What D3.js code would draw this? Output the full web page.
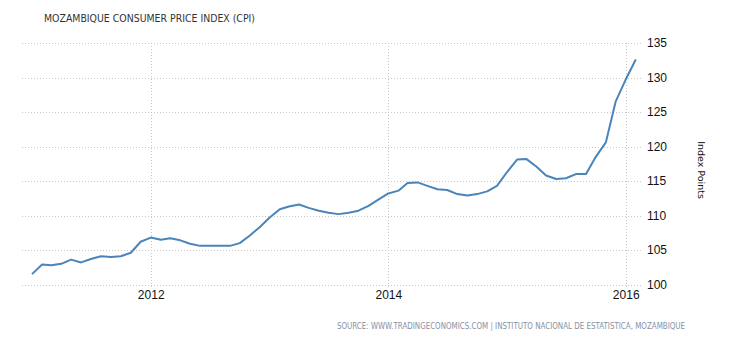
<!DOCTYPE html>
<html><head><meta charset="utf-8">
<script src="https://cdn.jsdelivr.net/npm/d3@7"></script>
<style>body{margin:0;background:#fff}svg{display:block}</style>
</head><body>
<script>
const title = "MOZAMBIQUE CONSUMER PRICE INDEX (CPI)";
const source = "SOURCE: WWW.TRADINGECONOMICS.COM | INSTITUTO NACIONAL DE ESTATISTICA, MOZAMBIQUE";
const yLabel = "Index Points";
const startMonth = "2011-01";
const cpiValues = [
  101.5, 102.9, 102.8, 103.0, 103.6, 103.2, 103.7, 104.1, 104.0, 104.1, 104.6, 106.2,
  106.8, 106.5, 106.7, 106.4, 105.9, 105.6, 105.6, 105.6, 105.6, 106.0, 107.1, 108.3,
  109.7, 110.9, 111.3, 111.6, 111.1, 110.7, 110.4, 110.2, 110.4, 110.7, 111.4, 112.3,
  113.2, 113.6, 114.7, 114.8, 114.3, 113.8, 113.7, 113.1, 112.9, 113.1, 113.5, 114.3,
  116.3, 118.1, 118.2, 117.1, 115.8, 115.3, 115.4, 116.0, 116.0, 118.5, 120.6, 126.5,
  129.7, 132.6
];
const yTicks = [100, 105, 110, 115, 120, 125, 130, 135];
const xTickYears = [2012, 2014, 2016];

const W = 730, H = 340;
const svg = d3.select("body").append("svg").attr("width", W).attr("height", H);

const t0 = d3.timeParse("%Y-%m")(startMonth);
const data = cpiValues.map((v, i) => ({date: d3.timeMonth.offset(t0, i), value: v}));

const x = d3.scaleTime()
  .domain([new Date(2012, 0, 1), new Date(2016, 0, 1)])
  .range([150.7, 625.7]);
const y = d3.scaleLinear().domain([100, 135]).range([284.5, 43]);
const plotL = 22, plotR = 643;

// horizontal grid
svg.append("g").selectAll("line").data(yTicks).join("line")
  .attr("x1", plotL).attr("x2", plotR)
  .attr("y1", d => Math.round(y(d)) + 0.5).attr("y2", d => Math.round(y(d)) + 0.5)
  .attr("stroke", "#c8c8c8").attr("stroke-width", 1).attr("stroke-dasharray", "1,2");

// vertical grid
const xTickDates = xTickYears.map(yr => new Date(yr, 0, 1));
svg.append("g").selectAll("line").data(xTickDates).join("line")
  .attr("x1", d => Math.round(x(d)) + 0.5).attr("x2", d => Math.round(x(d)) + 0.5)
  .attr("y1", 43).attr("y2", 288)
  .attr("stroke", "#c8c8c8").attr("stroke-width", 1).attr("stroke-dasharray", "1,2");

// right y axis labels
const yAxis = d3.axisRight(y).tickValues(yTicks).tickSize(0).tickPadding(0);
const gy = svg.append("g").attr("transform", `translate(647,0)`).call(yAxis);
gy.select(".domain").remove();
gy.selectAll("text").attr("font-family", "Liberation Sans, Arial, sans-serif")
  .attr("font-size", 12).attr("fill", "#111");

// x axis labels
const xAxis = d3.axisBottom(x).tickValues(xTickDates).tickFormat(d3.timeFormat("%Y")).tickSize(0).tickPadding(0);
const gx = svg.append("g").attr("transform", `translate(0,290)`).call(xAxis);
gx.select(".domain").remove();
gx.selectAll("text").attr("font-family", "Liberation Sans, Arial, sans-serif")
  .attr("font-size", 12).attr("fill", "#111");

// line
const line = d3.line().x(d => x(d.date)).y(d => y(d.value));
svg.append("path").datum(data).attr("d", line)
  .attr("fill", "none").attr("stroke", "#4a84b9").attr("stroke-width", 2)
  .attr("stroke-linejoin", "round");

// title
svg.append("text").attr("x", 44).attr("y", 22).text(title)
  .attr("font-family", "DejaVu Sans, sans-serif").attr("font-size", 10.5)
  .attr("fill", "#333").attr("textLength", 211).attr("lengthAdjust", "spacingAndGlyphs");

// y label
svg.append("text").attr("transform", "translate(698,170) rotate(90)")
  .attr("text-anchor", "middle").text(yLabel)
  .attr("font-family", "DejaVu Sans, sans-serif").attr("font-size", 9.5).attr("fill", "#111");

// source
svg.append("text").attr("x", 685).attr("y", 329).attr("text-anchor", "end").text(source)
  .attr("font-family", "DejaVu Sans, sans-serif").attr("font-size", 8)
  .attr("fill", "#8890a4").attr("textLength", 348).attr("lengthAdjust", "spacingAndGlyphs");
</script>
</body></html>
